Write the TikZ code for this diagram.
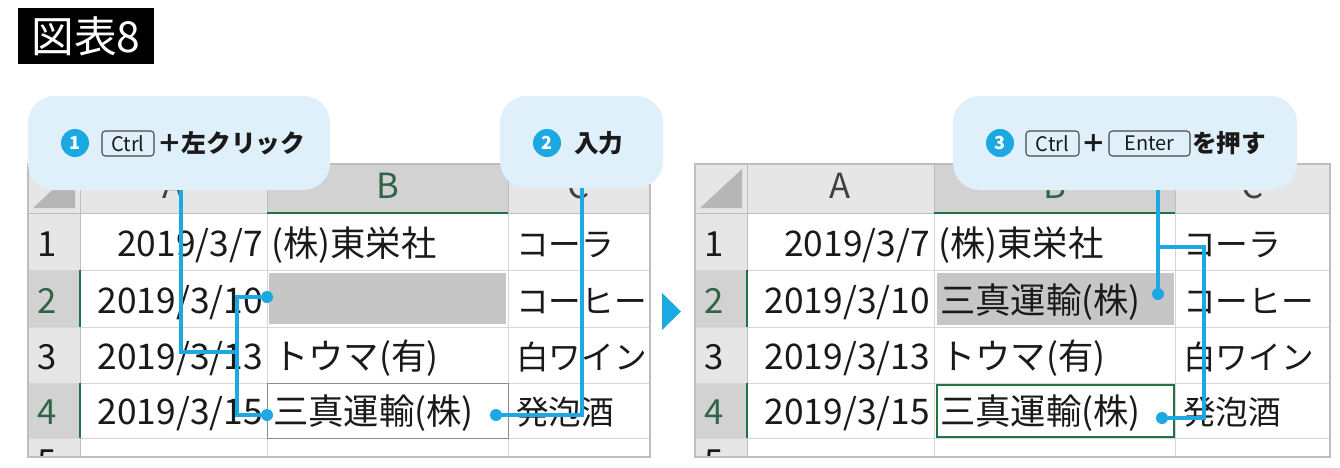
\documentclass[tikz,border=0pt]{standalone}
\usepackage{fontspec}
\setmainfont{Noto Sans CJK JP}
\definecolor{cblue}{RGB}{28,168,226}
\definecolor{callbg}{RGB}{224,240,251}
\definecolor{hdr}{RGB}{230,230,230}
\definecolor{hdrsel}{RGB}{210,210,210}
\definecolor{gridcol}{RGB}{214,214,214}
\definecolor{bordcol}{RGB}{190,190,190}
\definecolor{selfill}{RGB}{198,198,198}
\definecolor{xlgreen}{RGB}{33,115,70}
\definecolor{tricol}{RGB}{182,182,182}
\definecolor{txt}{RGB}{26,26,26}
\definecolor{keyline}{RGB}{70,70,70}
\definecolor{seltxt}{RGB}{48,100,70}
\tikzset{
  conn/.style={draw=cblue, line width=2.3pt},
  dot/.style={circle, fill=cblue, inner sep=0pt, minimum size=9pt},
  callout/.style={fill=callbg, rounded corners=20pt, inner sep=0pt},
  num/.style={circle, fill=cblue, text=white, inner sep=0pt, minimum size=21pt, font=\fontsize{13.5}{13.5}\selectfont\bfseries},
  keycap/.style={draw=keyline, line width=0.8pt, rounded corners=2.5pt, inner sep=0pt, minimum height=18.75pt, font=\fontsize{15}{15}\selectfont, text=txt},
  ctext/.style={anchor=west, inner sep=0pt, font=\fontsize{18.5}{18.5}\selectfont\bfseries, text=txt},
  cell/.style={inner sep=0pt, font=\fontsize{26.5}{26.5}\selectfont, text=txt},
  kcell/.style={inner sep=0pt, font=\fontsize{24.5}{24.5}\selectfont, text=txt, anchor=base west},
  dcell/.style={cell, anchor=base east},
  jcell/.style={cell, anchor=base west},
  rnum/.style={cell, anchor=base, font=\fontsize{26}{26}\selectfont},
  gridl/.style={draw=gridcol, line width=0.75pt},
  hdrl/.style={draw=bordcol, line width=0.75pt},
  xlg/.style={draw=xlgreen, line width=1.5pt},
}
\newcommand\xltable[3]{%
  \pgfmathsetmacro\xa{#1+52}%
  \pgfmathsetmacro\xb{\xa+187}%
  \pgfmathsetmacro\xc{\xb+241}%
  \fill[white] (#1,164) rectangle (#2,457);
  \fill[hdr] (#1,164) rectangle (#2,213);
  \fill[hdrsel] (\xb,164) rectangle (\xc,213);
  \fill[hdr] (#1,213) rectangle (\xa,457);
  \fill[hdrsel] (#1,270) rectangle (\xa,327);
  \fill[hdrsel] (#1,383) rectangle (\xa,438);
  \fill[tricol] (#1+5,208) -- (\xa-5,169) -- (\xa-5,208) -- cycle;
  \foreach \yy in {270,327,383,438} \draw[gridl] (#1,\yy) -- (#2,\yy);
  \foreach \xx in {\xa,\xb,\xc} \draw[gridl] (\xx,213) -- (\xx,457);
  \foreach \xx in {\xa,\xb,\xc} \draw[hdrl] (\xx,164) -- (\xx,213);
  \draw[hdrl] (#1,213) -- (#2,213);
  \draw[hdrl] (\xa,213) -- (\xa,457);
  \draw[xlg] (\xb,213) -- (\xc,213);
  \draw[xlg] (\xa,270) -- (\xa,327);
  \draw[xlg] (\xa,383) -- (\xa,438);
  \node[rnum, text=black!75] (#3hA) at ({(\xa+\xb)/2},198) {A};
  \node[rnum, text=seltxt] (#3hB) at ({(\xb+\xc)/2},198) {B};
  \node[rnum, text=black!75] (#3hC) at ({(\xc+#2)/2},198) {C};
  \node[rnum] (#3n1) at (#1+19,256) {1};
  \node[rnum, text=seltxt] (#3n2) at (#1+19,313) {2};
  \node[rnum] (#3n3) at (#1+19,369) {3};
  \node[rnum, text=seltxt] (#3n4) at (#1+19,424) {4};
  \begin{scope}
    \clip (#1,438) rectangle (#2,457);
    \node[rnum] (#3n5) at (#1+19,474) {5};
  \end{scope}
  \node[dcell] (#3a1) at (\xb-4,256) {2019/3/7};
  \node[dcell] (#3a2) at (\xb-4,313) {2019/3/10};
  \node[dcell] (#3a3) at (\xb-4,369) {2019/3/13};
  \node[dcell] (#3a4) at (\xb-4,424) {2019/3/15};
  \node[jcell] (#3b1) at (\xb+4,256) {(株)東栄社};
  \node[jcell] (#3b3) at (\xb+6,369) {トウマ(有)};
  \node[kcell] (#3c1) at (\xc+8,256) {コーラ};
  \node[kcell] (#3c2) at (\xc+8,313) {コーヒー};
  \node[kcell] (#3c3) at (\xc+8,369) {白ワイン};
  \node[kcell] (#3c4) at (\xc+8,424) {発泡酒};
  \draw[draw=bordcol, line width=0.9pt] (#1,164) rectangle (#2,457);
}
\begin{document}
\begin{tikzpicture}[x=0.75pt,y=-0.75pt]
\useasboundingbox (0,0) rectangle (1340,468);
\fill[white] (0,0) rectangle (1340,468);

% title
\node[fill=black, text=white, inner sep=0pt, minimum width=102pt, minimum height=42pt,
      font=\fontsize{32}{32}\selectfont] (title) at (86,36) {図表8};

% left table
\xltable{28}{650}{L}
\fill[selfill] (269,273) rectangle (506,324);
\draw[draw=black!45, line width=0.75pt] (267,383) rectangle (508,438);
\node[jcell] (Lb4) at (273,424) {三真運輸(株)};

% right table
\xltable{695}{1330}{R}
\fill[selfill] (937,273) rectangle (1174,325);
\node[jcell] (Rb2) at (940,313) {三真運輸(株)};
\draw[draw=xlgreen, line width=0.9pt] (937,385) rectangle (1174,437);
\node[jcell] (Rb4) at (940,424) {三真運輸(株)};

% arrow between tables
\fill[cblue] (662,293) -- (681,311.5) -- (662,330) -- cycle;

% connector coordinates
\coordinate (j1) at (181,352);
\coordinate (j2) at (237,352);
\coordinate (b1) at (237,297);
\coordinate (b2) at (237,415);
\node[dot] (d1) at (267,297) {};
\node[dot] (d2) at (267,415) {};
\coordinate (k1) at (582,415);
\node[dot] (d3) at (496,415) {};
\coordinate (m0) at (1158,247);
\coordinate (m1) at (1204,247);
\coordinate (m2) at (1204,418);
\node[dot] (d4) at (1158,294) {};
\node[dot] (d5) at (1162,418) {};

% callouts
\node[callout, minimum width=226.5pt, minimum height=70.5pt] (c1) at (179,143) {};
\node[callout, minimum width=122.25pt, minimum height=69pt] (c2) at (581.5,142) {};
\node[callout, minimum width=258pt, minimum height=70.5pt] (c3) at (1125,143) {};

\draw[conn] (c1.south -| j1) -- (j1) -- (j2);
\draw[conn] (d1) -- (b1) -- (b2) -- (d2);
\draw[conn] (c2.south -| k1) -- (k1) -- (d3);
\draw[conn] (c3.south -| d4) -- (d4);
\draw[conn] (m0) -- (m1) -- (m2) -- (d5);

% callout 1 content
\node[num] (n1) at (75,143) {1};
\node[keycap, minimum width=39pt] (k1c) at (128,143.5) {Ctrl};
\node[ctext] (t1) at (157,143) {＋左クリック};
% callout 2 content
\node[num] (n2) at (547,143) {2};
\node[ctext] (t2) at (574,143) {入力};
% callout 3 content
\node[num] (n3) at (1000,143) {3};
\node[keycap, minimum width=39.75pt] (k3c) at (1052.5,143.5) {Ctrl};
\node[ctext] (t3a) at (1081,143) {＋};
\node[keycap, minimum width=60.75pt] (k3e) at (1149.5,143.5) {Enter};
\node[ctext] (t3b) at (1192,143) {を押す};
\end{tikzpicture}
\end{document}
